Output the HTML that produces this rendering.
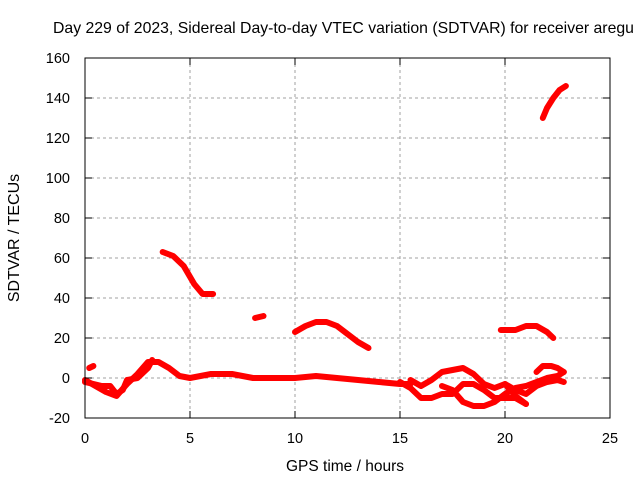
<!DOCTYPE html>
<html><head><meta charset="utf-8"><style>
body{margin:0;background:#fff}
svg{display:block;font-family:"Liberation Sans",sans-serif}
</style></head><body>
<svg id="c" width="640" height="480">
<rect width="640" height="480" fill="#fff"/>
<text x="53" y="33" font-size="15.8" fill="#000">Day 229 of 2023, Sidereal Day-to-day VTEC variation (SDTVAR) for receiver aregu</text>
<g id="grid"></g><g id="series"></g><g id="axes"></g>
<text x="345" y="471" font-size="15.5" text-anchor="middle">GPS time / hours</text>
<text transform="translate(19,238) rotate(-90)" font-size="16" text-anchor="middle">SDTVAR / TECUs</text>
</svg>
<script>
const xTicks=[0,5,10,15,20,25];
const yTicks=[-20,0,20,40,60,80,100,120,140,160];
const trackA_t=[0,0.5,1,1.5,2,2.5,3,3.5,4,4.5,5,5.5,6,7,8,9,10,11,12,13,14,15,15.5];
const trackA_v=[-1,-4,-7,-9,-3,2,8,8,5,1,0,1,2,2,0,0,0,1,0,-1,-2,-3,-3];
const trackB_t=[0,0.8,1.2,1.5,1.8,2,2.5,3,3.2];
const trackB_v=[-2,-4,-4,-8,-6,-1,0,5,9];
const trackC_t=[0.2,0.4];const trackC_v=[5,6];
const trackD_t=[3.7,4.2,4.7,5.2,5.6,6.1];const trackD_v=[63,61,56,47,42,42];
const trackE_t=[8.1,8.5];const trackE_v=[30,31];
const trackF_t=[10,10.5,11,11.5,12,12.5,13,13.5];const trackF_v=[23,26,28,28,26,22,18,15];
const trackG_t=[19.8,20.5,21,21.5,22,22.3];const trackG_v=[24,24,26,26,23,20];
const trackH_t=[21.8,22,22.3,22.6,22.9];const trackH_v=[130,135,140,144,146];
const trackI_t=[15,15.5,16,16.5,17,17.5,18,18.5,19,19.5,20,20.5,21];const trackI_v=[-2,-5,-10,-10,-8,-8,-3,-3,-6,-10,-10,-10,-13];
const trackJ_t=[15.5,16,16.5,17,17.5,18,18.5,19,19.5,20,20.5,21];const trackJ_v=[-1,-4,-1,3,4,5,2,-3,-5,-3,-9,-13];
const trackK_t=[17,17.5,18,18.5,19,19.5,20,20.5,21,21.5,22,22.5,22.8];const trackK_v=[-4,-6,-12,-14,-14,-12,-8,-5,-4,-2,0,1,3];
const trackL_t=[21.5,21.8,22.2,22.5,22.8];const trackL_v=[3,6,6,5,3];
const trackM_t=[20,20.5,21,21.5,22,22.5,22.8];const trackM_v=[-3,-6,-8,-4,-2,-1,-2];
const tracks=[[trackA_t,trackA_v],[trackB_t,trackB_v],[trackC_t,trackC_v],[trackD_t,trackD_v],[trackE_t,trackE_v],[trackF_t,trackF_v],[trackG_t,trackG_v],[trackH_t,trackH_v],[trackI_t,trackI_v],[trackJ_t,trackJ_v],[trackK_t,trackK_v],[trackL_t,trackL_v],[trackM_t,trackM_v]];
const X0=85,X1=610,Y0=418,Y1=58;
const sx=t=>X0+(t-0)/(25-0)*(X1-X0);
const sy=v=>Y0-(v+20)/(180)*(Y0-Y1);
const NS='http://www.w3.org/2000/svg';
function mk(tag,attrs,parent){const e=document.createElementNS(NS,tag);for(const k in attrs)e.setAttribute(k,attrs[k]);parent.appendChild(e);return e;}
const grid=document.getElementById('grid'),axes=document.getElementById('axes'),ser=document.getElementById('series');
xTicks.forEach(t=>{const x=sx(t);
 if(t>0&&t<25){const g=mk('line',{x1:x,x2:x,y1:Y1,y2:Y0,stroke:'#a0a0a0','stroke-dasharray':'3,3'},grid);
 }
 mk('line',{x1:x,x2:x,y1:Y0,y2:Y0-7,stroke:'#000'},axes);mk('line',{x1:x,x2:x,y1:Y1,y2:Y1+7,stroke:'#000'},axes);
 const l=mk('text',{x:x,y:Y0+25,'font-size':14.5,'text-anchor':'middle'},axes);l.textContent=t;
 });
yTicks.forEach(v=>{const y=sy(v);
 if(v>-20&&v<160){const g=mk('line',{x1:X0,x2:X1,y1:y,y2:y,stroke:'#a0a0a0','stroke-dasharray':'3,3'},grid);
 }
 mk('line',{x1:X0,x2:X0+7,y1:y,y2:y,stroke:'#000'},axes);mk('line',{x1:X1,x2:X1-7,y1:y,y2:y,stroke:'#000'},axes);
 const l=mk('text',{x:X0-15,y:y+5,'font-size':14.5,'text-anchor':'end'},axes);l.textContent=v;
 });
const fr=mk('rect',{x:X0,y:Y1,width:X1-X0,height:Y0-Y1,fill:'none',stroke:'#000'},axes);

tracks.forEach(([ts,vs])=>{
 const p=mk('polyline',{points:ts.map((t,i)=>sx(t)+','+sy(vs[i])).join(' '),fill:'none',stroke:'#ff0000','stroke-width':6,'stroke-linejoin':'round','stroke-linecap':'round'},ser);
 });
</script>
</body></html>
